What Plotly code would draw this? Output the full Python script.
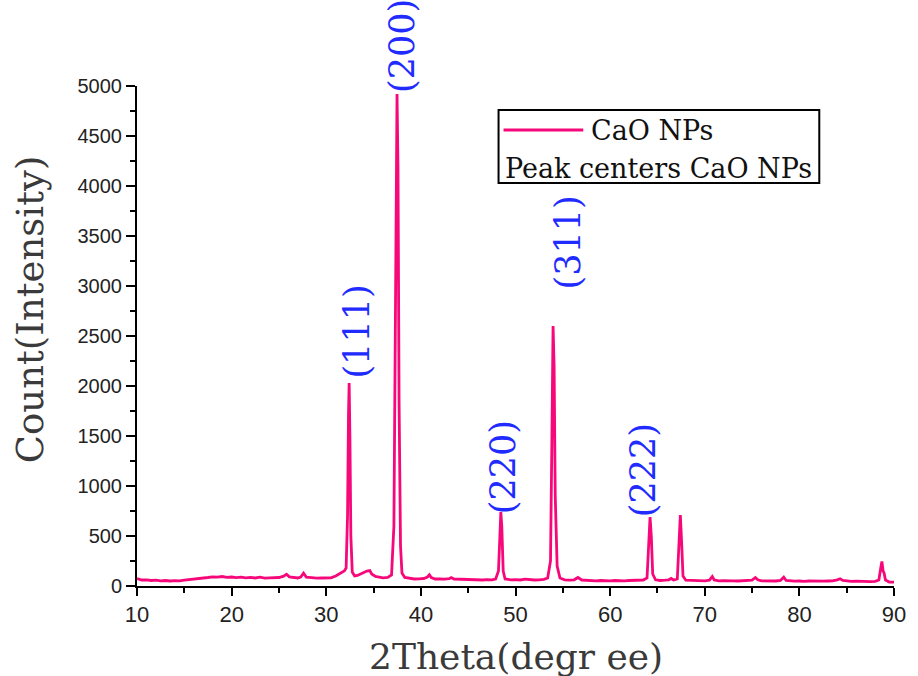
import plotly.graph_objects as go

two_theta = [
    10.0, 10.5, 11.0, 11.5, 12.0, 12.5, 13.0, 13.5, 14.0, 14.5, 15.0, 15.5, 16.0, 16.5, 17.0, 17.5,
    18.0, 18.5, 19.0, 19.5, 20.0, 20.5, 21.0, 21.5, 22.0, 22.5, 23.0, 23.5, 24.0, 24.5, 25.0, 25.5,
    25.8, 26.1, 26.5, 27.0, 27.3, 27.6, 27.9, 28.5, 29.0, 29.5, 30.0, 30.5, 31.0, 31.5, 31.9, 32.1,
    32.25, 32.35, 32.42, 32.5, 32.6, 32.75, 33.0, 33.3, 33.7, 34.0, 34.3, 34.6, 34.8, 35.2, 35.6, 36.0,
    36.5, 36.9, 37.15, 37.3, 37.4, 37.48, 37.58, 37.7, 37.85, 38.0, 38.3, 38.8, 39.3, 39.8, 40.3, 40.7,
    40.9, 41.1, 41.5, 42.0, 42.5, 43.0, 43.2, 43.5, 44.0, 44.5, 45.0, 45.5, 46.0, 46.5, 47.0, 47.5,
    47.9, 48.2, 48.35, 48.45, 48.55, 48.7, 48.9, 49.5, 50.0, 50.5, 51.0, 51.5, 52.0, 52.5, 53.0, 53.4,
    53.7, 53.85, 53.97, 54.08, 54.2, 54.4, 54.7, 55.2, 55.7, 56.2, 56.6, 57.0, 57.5, 58.0, 58.5, 59.0,
    59.5, 60.0, 60.5, 61.0, 61.5, 62.0, 62.5, 63.0, 63.5, 63.9, 64.1, 64.22, 64.35, 64.5, 64.8, 65.3,
    65.8, 66.2, 66.45, 66.7, 67.1, 67.3, 67.42, 67.55, 67.7, 68.0, 68.5, 69.0, 69.5, 70.0, 70.5, 70.8,
    71.0, 71.5, 72.0, 72.5, 73.0, 73.5, 74.0, 74.5, 75.0, 75.35, 75.6, 76.0, 76.5, 77.0, 77.5, 78.0,
    78.35, 78.6, 79.0, 79.5, 80.0, 80.5, 81.0, 81.5, 82.0, 82.5, 83.0, 83.5, 84.0, 84.3, 84.6, 85.0,
    85.5, 86.0, 86.5, 87.0, 87.5, 88.0, 88.4, 88.6, 88.72, 88.85, 88.95, 89.1, 89.5, 90.0,
]
intensity = [
    75, 60, 62, 55, 58, 52, 55, 50, 54, 52, 58, 62, 68, 74, 80, 85,
    92, 88, 95, 86, 90, 84, 88, 82, 86, 80, 88, 78, 82, 80, 85, 98,
    118, 92, 84, 80, 90, 128, 88, 80, 78, 80, 78, 82, 100, 125, 150, 180,
    700, 1700, 2030, 1500, 500, 140, 100, 105, 125, 140, 150, 155, 120, 95, 85, 82,
    85, 110, 600, 2500, 4300, 4920, 4200, 1800, 400, 130, 85, 75, 70, 72, 75, 90,
    112, 85, 70, 72, 68, 74, 85, 70, 68, 65, 66, 62, 65, 60, 64, 62,
    70, 150, 500, 740, 600, 150, 70, 62, 64, 60, 68, 62, 60, 62, 66, 80,
    250, 1500, 2600, 2200, 900, 200, 80, 62, 58, 62, 85, 60, 55, 54, 52, 55,
    50, 52, 55, 50, 52, 55, 58, 56, 60, 80, 400, 690, 500, 120, 62, 55,
    58, 62, 75, 60, 70, 400, 710, 450, 100, 58, 55, 52, 55, 52, 58, 95,
    60, 52, 54, 50, 52, 50, 54, 52, 58, 85, 62, 52, 50, 52, 50, 55,
    88, 55, 50, 48, 50, 46, 50, 48, 46, 48, 50, 52, 62, 72, 55, 48,
    46, 48, 45, 46, 44, 46, 60, 180, 245, 150, 130, 60, 40, 38,
]

peak_labels = ["(111)", "(200)", "(220)", "(311)", "(222)"]
label_x = [33.2, 38.0, 48.7, 55.6, 63.5]
label_y = [2540, 5400, 1190, 3440, 1160]

x_ticks = [10, 20, 30, 40, 50, 60, 70, 80, 90]
y_ticks = [0, 500, 1000, 1500, 2000, 2500, 3000, 3500, 4000, 4500, 5000]
y_range = [0, 5000]

LINE_COLOR = "#F7087A"
LABEL_COLOR = "#1F2BFF"
SERIF = "DejaVu Serif"
SANS = "Liberation Sans, Arial, sans-serif"

fig = go.Figure()
fig.add_trace(go.Scatter(
    x=two_theta, y=intensity, mode="lines", name="CaO NPs",
    line=dict(color=LINE_COLOR, width=2.8), showlegend=False,
))

annotations = []
for txt, lx, ly in zip(peak_labels, label_x, label_y):
    # y given as a fraction of the y range so labels above the axis top stay visible
    annotations.append(dict(
        x=lx, y=(ly - y_range[0]) / (y_range[1] - y_range[0]), xref="x", yref="paper",
        text=txt, showarrow=False,
        textangle=-90, xanchor="center", yanchor="middle",
        font=dict(family=SERIF, size=35, color=LABEL_COLOR),
    ))

# axis titles
annotations.append(dict(
    x=0.5, y=-0.14, xref="paper", yref="paper", text="2Theta(degr ee)",
    showarrow=False, xanchor="center", yanchor="middle",
    font=dict(family=SERIF, size=36, color="#3a3a3a"),
))
annotations.append(dict(
    x=-0.141, y=0.554, xref="paper", yref="paper", text="Count(Intensity)",
    showarrow=False, textangle=-90, xanchor="center", yanchor="middle",
    font=dict(family=SERIF, size=37, color="#3a3a3a"),
))

# legend drawn manually
annotations.append(dict(
    x=0.597, y=0.912, xref="paper", yref="paper", text="CaO NPs",
    showarrow=False, xanchor="left", yanchor="middle",
    font=dict(family=SERIF, size=27, color="#111111"),
))
annotations.append(dict(
    x=0.484, y=0.836, xref="paper", yref="paper", text="Peak centers CaO NPs",
    showarrow=False, xanchor="left", yanchor="middle",
    font=dict(family=SERIF, size=27, color="#111111"),
))

shapes = [
    dict(type="rect", xref="paper", yref="paper", x0=0.4776, x1=0.9013, y0=0.806, y1=0.952,
         line=dict(color="black", width=2), fillcolor="rgba(0,0,0,0)", layer="above"),
    dict(type="line", xref="paper", yref="paper", x0=0.4842, x1=0.5895, y0=0.912, y1=0.912,
         line=dict(color=LINE_COLOR, width=2.8)),
]

fig.update_layout(
    width=918, height=676,
    margin=dict(l=137, r=21, t=86, b=90),
    paper_bgcolor="white", plot_bgcolor="white",
    showlegend=False,
    annotations=annotations,
    shapes=shapes,
    xaxis=dict(
        range=[10, 90], tickmode="array", tickvals=x_ticks,
        ticktext=[str(v) for v in x_ticks],
        showline=True, linecolor="black", linewidth=2, mirror=False,
        ticks="outside", ticklen=8, tickwidth=2, tickcolor="black",
        minor=dict(dtick=5, tick0=5, ticks="outside", ticklen=5, tickwidth=2, tickcolor="black"),
        showgrid=False, zeroline=False,
        tickfont=dict(family=SANS, size=22, color="#222222"),
    ),
    yaxis=dict(
        range=y_range, tickmode="array", tickvals=y_ticks,
        ticktext=[str(v) for v in y_ticks],
        showline=True, linecolor="black", linewidth=2, mirror=False,
        ticks="outside", ticklen=9, tickwidth=2, tickcolor="black",
        minor=dict(dtick=250, tick0=0, ticks="outside", ticklen=5, tickwidth=2, tickcolor="black"),
        showgrid=False, zeroline=False,
        tickfont=dict(family=SANS, size=20, color="#222222"),
    ),
)

# remove the page's default 8px body margin so the figure fills the window exactly
fig.write_html(
    "out.html",
    config={"displayModeBar": False},
    post_script="document.body.style.margin='0px'; document.body.style.overflow='hidden';",
)
